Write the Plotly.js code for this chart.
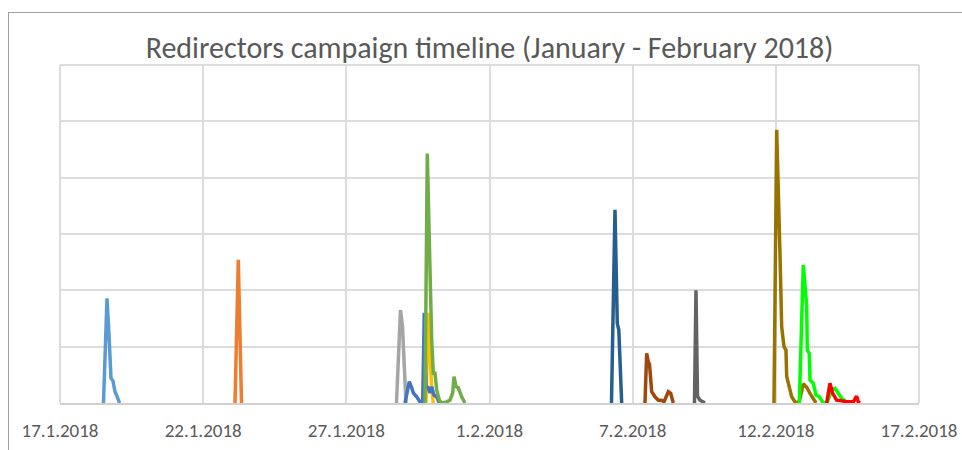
<!DOCTYPE html>
<html>
<head>
<meta charset="utf-8">
<script src="https://cdn.plot.ly/plotly-3.0.1.min.js"></script>
<style>
  html, body { margin: 0; padding: 0; background: #fff; }
  #chart { width: 962px; height: 450px; position: relative; }
  #frame { position: absolute; left: 8px; top: 12px; width: 1000px; height: 500px;
           border: 1px solid #a0a0a0; pointer-events: none; }
</style>
</head>
<body>
<div id="chart"></div>
<div id="frame"></div>
<script>
// ---- data (y units arbitrary, one gridline = 100) ----
const tickLabels = ["17.1.2018", "22.1.2018", "27.1.2018", "1.2.2018", "7.2.2018", "12.2.2018", "17.2.2018"];

const s1x = ["2018-01-18 13:40","2018-01-18 16:43","2018-01-18 18:26","2018-01-18 20:10","2018-01-18 21:54","2018-01-18 23:38","2018-01-19 01:22","2018-01-19 03:32"];
const s1y = [0,186,121,44,39,20,12,0];

const s2x = ["2018-01-23 07:34","2018-01-23 10:26","2018-01-23 13:12"];
const s2y = [0,254,0];

const s3x = ["2018-01-29 03:26","2018-01-29 06:55","2018-01-29 08:40","2018-01-29 09:50","2018-01-29 10:45","2018-01-29 11:40"];
const s3y = [0,165,135,81,41,0];

const s4x = ["2018-01-30 05:00","2018-01-30 06:43","2018-01-30 08:01","2018-01-30 09:45","2018-01-30 11:19"];
const s4y = [0,160,112,30,0];

const s5x = ["2018-01-29 10:48","2018-01-29 14:32","2018-01-29 16:37","2018-01-29 17:59","2018-01-29 20:56","2018-01-29 23:48","2018-01-30 02:08","2018-01-30 03:31","2018-01-30 05:00","2018-01-30 06:59","2018-01-30 08:28","2018-01-30 09:56","2018-01-30 11:55","2018-01-30 14:16","2018-01-30 16:31"];
const s5y = [0,38,27,18,11,2,0,160,29,27,18,29,14,11,0];

const s6x = ["2018-01-30 04:08","2018-01-30 06:07","2018-01-30 07:51","2018-01-30 09:04","2018-01-30 09:56","2018-01-30 11:19","2018-01-30 12:47","2018-01-30 14:16","2018-01-30 16:31","2018-01-30 18:35","2018-01-30 22:55","2018-01-31 01:47","2018-01-31 04:07","2018-01-31 05:14","2018-01-31 06:59","2018-01-31 08:58","2018-01-31 11:55","2018-01-31 14:46"];
const s6y = [0,443,289,171,112,53,53,23,5,0,2,5,18,47,29,27,11,0];

const s7x = ["2018-02-05 21:39","2018-02-06 00:41","2018-02-06 02:41","2018-02-06 03:59","2018-02-06 06:29"];
const s7y = [0,343,141,130,0];

const s8x = ["2018-02-07 02:40","2018-02-07 04:08","2018-02-07 05:32","2018-02-07 06:34","2018-02-07 08:29","2018-02-07 11:20","2018-02-07 14:11","2018-02-07 17:08","2018-02-07 19:07","2018-02-07 22:51","2018-02-08 00:56","2018-02-08 03:11"];
const s8y = [0,88,73,69,20,11,5,5,2,20,17,0];

const s9x = ["2018-02-08 21:32","2018-02-08 22:50","2018-02-09 00:08","2018-02-09 02:18","2018-02-09 04:54","2018-02-09 06:38"];
const s9y = [0,200,12,5,2,0];

const s10x = ["2018-02-11 18:24","2018-02-11 20:44","2018-02-11 23:35","2018-02-12 01:04","2018-02-12 03:04","2018-02-12 04:47","2018-02-12 05:24","2018-02-12 07:39","2018-02-12 09:44","2018-02-12 12:35","2018-02-12 16:03","2018-02-12 19:47","2018-02-12 22:43","2018-02-13 01:35","2018-02-13 04:26","2018-02-13 06:46"];
const s10y = [0,485,266,135,100,94,47,29,11,2,0,34,28,17,9,0];

const s11x = ["2018-02-12 16:19","2018-02-12 19:47","2018-02-12 22:43","2018-02-12 23:14","2018-02-13 00:58","2018-02-13 01:35","2018-02-13 04:26","2018-02-13 06:46","2018-02-13 09:38","2018-02-13 13:05","2018-02-13 16:18","2018-02-13 20:23","2018-02-13 23:14","2018-02-14 02:05","2018-02-14 05:02","2018-02-14 09:22","2018-02-14 12:13"];
const s11y = [0,245,171,94,88,41,35,14,11,0,0,23,26,17,8,2,0];

const s12x = ["2018-02-13 16:02","2018-02-13 18:54","2018-02-13 21:14","2018-02-14 00:42","2018-02-14 05:02","2018-02-14 09:22","2018-02-14 15:05","2018-02-14 18:01","2018-02-14 19:25","2018-02-14 20:53"];
const s12y = [0,35,17,5,4,2,2,12,2,0];

const seriesX = [s1x,s2x,s3x,s4x,s5x,s6x,s7x,s8x,s9x,s10x,s11x,s12x];
const seriesY = [s1y,s2y,s3y,s4y,s5y,s6y,s7y,s8y,s9y,s10y,s11y,s12y];
const colors = ["#5B9BD5","#ED7D31","#A5A5A5","#FFC000","#4472C4","#70AD47","#255E91","#9E480E","#636363","#997300","#00FF00","#FF0000"];

// ---- layout helpers ----
const start = Date.UTC(2018,0,17), end = Date.UTC(2018,1,17);
const step = (end - start) / (tickLabels.length - 1);
const tickVals = tickLabels.map((_, i) => {
  const d = new Date(start + i * step);
  return d.toISOString().replace("T"," ").slice(0,19);
});

const traces = seriesX.map((xs, i) => ({
  x: xs, y: seriesY[i], type: "scatter", mode: "lines",
  line: { color: colors[i], width: 3.5 }, hoverinfo: "skip", showlegend: false
}));

const gridCol = "#dcdcdc";
const fontFam = "Carlito, Lato, 'Liberation Sans', sans-serif";
const layout = {
  width: 962, height: 450,
  margin: { l: 60, r: 43, t: 65, b: 47 },
  paper_bgcolor: "#fff", plot_bgcolor: "#fff",
  title: { text: "Redirectors campaign timeline (January - February 2018)",
           font: { family: fontFam, size: 30, color: "#595959" },
           x: 0.5, xref: "paper", y: 1 - 47/450, yref: "container", yanchor: "middle" },
  xaxis: {
    type: "date", range: ["2018-01-17", "2018-02-17"],
    tickmode: "array", tickvals: tickVals, ticktext: tickLabels,
    showgrid: true, gridcolor: gridCol, gridwidth: 2,
    showline: true, linecolor: "#d0d0d0", linewidth: 2,
    zeroline: false, ticks: "", ticklabelstandoff: 9,
    tickfont: { family: fontFam, size: 19, color: "#595959" }
  },
  yaxis: {
    range: [0, 600], dtick: 100, tick0: 0, showticklabels: false,
    showgrid: true, gridcolor: gridCol, gridwidth: 2,
    zeroline: false, showline: false, ticks: ""
  },
  shapes: [
    { type: "line", xref: "paper", yref: "paper", x0: 0, x1: 0, y0: 0, y1: 1,
      line: { color: gridCol, width: 2 }, layer: "below" },
    { type: "line", xref: "paper", yref: "paper", x0: 1, x1: 1, y0: 0, y1: 1,
      line: { color: gridCol, width: 2 }, layer: "below" },
    { type: "line", xref: "paper", yref: "paper", x0: 0, x1: 1, y0: 1, y1: 1,
      line: { color: gridCol, width: 2 }, layer: "below" }
  ]
};

Plotly.newPlot("chart", traces, layout, { staticPlot: true, displayModeBar: false });
</script>
</body>
</html>
